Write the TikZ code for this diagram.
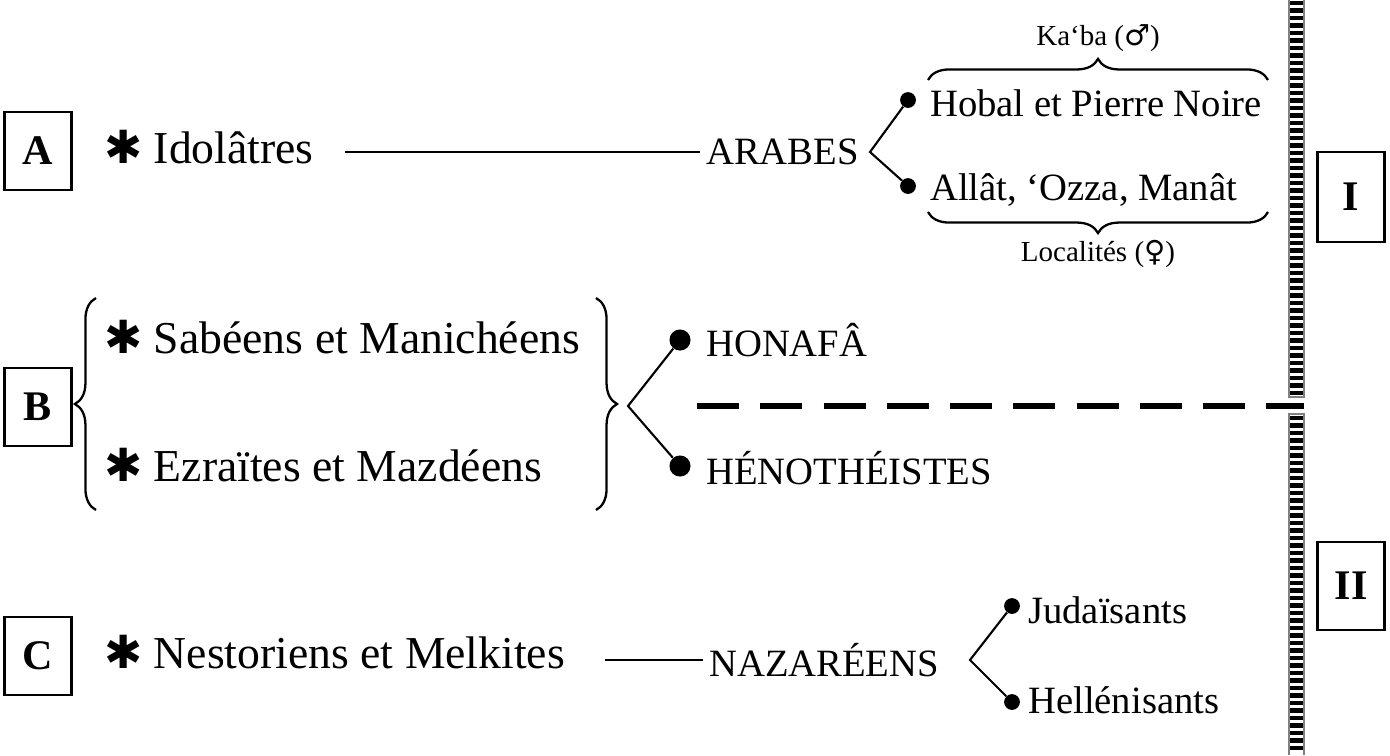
\documentclass[tikz,border=0pt]{standalone}
\usepackage{fontspec}
\setmainfont{Liberation Serif}
\newfontfamily\symfont{DejaVu Sans}
\usetikzlibrary{decorations.pathreplacing}
\begin{document}
\begin{tikzpicture}[x=0.02cm,y=-0.02cm,
  letterbox/.style={draw,line width=1.2pt,minimum width=1.34cm,minimum height=1.56cm,font=\fontsize{24}{28}\selectfont\bfseries},
  group/.style={anchor=west,font=\fontsize{26}{30}\selectfont},
  people/.style={anchor=west,font=\fontsize{22}{26}\selectfont},
  item/.style={anchor=west,font=\fontsize{22}{26}\selectfont},
  small/.style={font=\fontsize{16.5}{20}\selectfont},
  dot/.style={circle,fill,inner sep=0pt,minimum size=#1},
  branch/.style={line width=1.2pt},
  bracestyle/.style={line width=1.3pt,decorate,decoration={brace,amplitude=12pt}}]
\newcommand{\starmark}{{\symfont\char"2731}}

\useasboundingbox (0,0) rectangle (1390,755);

%Letter boxes
\node[letterbox] (A) at (38,151){A};
\node[letterbox] (B) at (38,407){B};
\node[letterbox] (C) at (38,656){C};
\node[letterbox,minimum height=1.8cm] (I) at (1351,197){I};
\node[letterbox,minimum height=1.76cm] (II) at (1351,586){II};

%Vertical hatched bar
\draw[gray,thick] (1289,0) -- (1289,397) -- (1304,397) -- (1304,0);
\draw[gray,thick] (1289,755) -- (1289,414) -- (1304,414) -- (1304,755);
\foreach \y in {3,10.5,...,395}
  \draw[line width=2.4pt] (1290,\y) -- (1303,\y);
\foreach \y in {418,425.5,...,755}
  \draw[line width=2.4pt] (1290,\y) -- (1303,\y);

%A : Idolatres
\node[group] (idol) at (98,147){\starmark\ Idolâtres};
\node[people] (arabes) at (700,152){ARABES};
\draw[branch] (arabes.west -| 345,0) -- (arabes.west);
\coordinate (arabesfork) at (870,152);
\node[dot=9pt] (d1) at (908,100){};
\node[dot=9pt] (d2) at (908,186){};
\draw[branch] (d1) -- (arabesfork) -- (d2);
\node[item] (hobal) at (924,103){Hobal et Pierre Noire};
\node[item] (allat) at (924,190){Allât, ‘Ozza, Manât};
\draw[bracestyle] (928,80) -- (1268,80) node[midway,above=12pt,small] (kaba){Ka‘ba ({\symfont ♂})};
\draw[bracestyle] (1268,212) -- (928,212) node[midway,below=12pt,small] (local){Localités ({\symfont ♀})};

%B : Sabeens, Ezraites
\node[group] (sabeens) at (98,337){\starmark\ Sabéens et Manichéens};
\node[group] (ezraites) at (98,465){\starmark\ Ezraïtes et Mazdéens};
\draw[bracestyle] (96,510) -- (96,298);
\draw[bracestyle] (596,298) -- (596,510);
\coordinate (bfork) at (628,406);
\node[dot=12pt] (d3) at (680,340){};
\node[dot=12pt] (d4) at (680,466){};
\draw[branch] (d3) -- (bfork) -- (d4);
\node[people] (honafa) at (700,340){HONAFÂ};
\node[people] (heno) at (700,468){HÉNOTHÉISTES};

%Dashed divide
\draw[line width=3pt,dash pattern=on 24pt off 12pt] (697,406) -- (1304,406);

%C : Nestoriens
\node[group] (nest) at (98,652){\starmark\ Nestoriens et Melkites};
\node[people] (naza) at (703,660){NAZARÉENS};
\draw[branch] (naza.west -| 605,0) -- (naza.west);
\coordinate (cfork) at (970,660);
\node[dot=9pt] (d5) at (1012,606){};
\node[dot=9pt] (d6) at (1012,702){};
\draw[branch] (d5) -- (cfork) -- (d6);
\node[item] (juda) at (1022,610){Judaïsants};
\node[item] (hellen) at (1022,700){Hellénisants};

\end{tikzpicture}
\end{document}
